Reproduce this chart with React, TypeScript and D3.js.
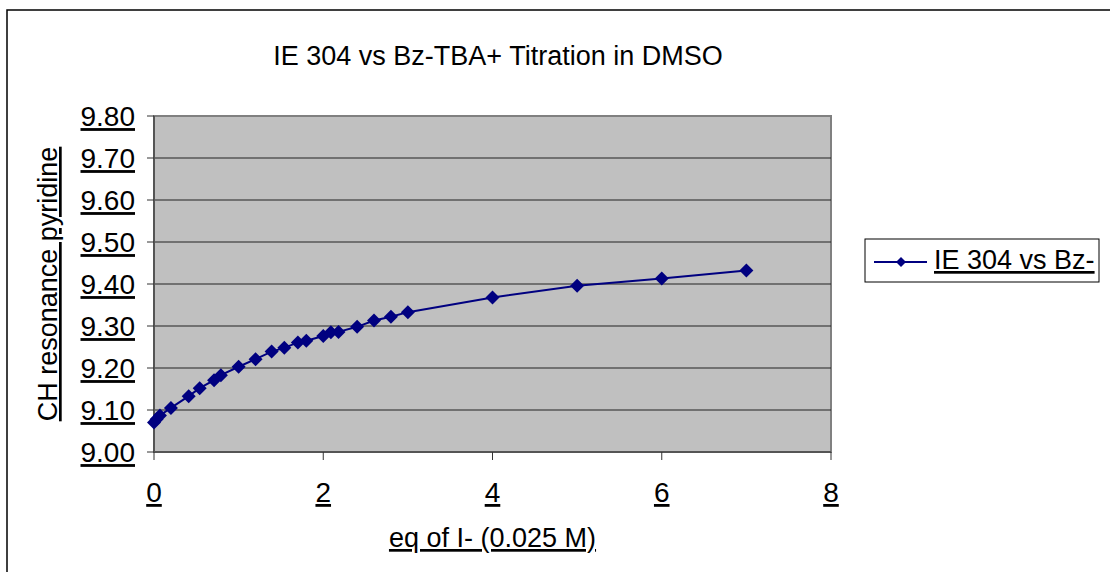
import React from "react";
import * as d3 from "d3";

// Titration data: equivalents of I- added vs. CH resonance of the pyridine proton (ppm)
const eqAdded = [
  0, 0.03, 0.07, 0.2, 0.41, 0.54, 0.71, 0.79, 1.0, 1.2, 1.39, 1.54, 1.7, 1.8,
  2.0, 2.09, 2.18, 2.4, 2.6, 2.8, 3.0, 4.0, 5.0, 6.0, 7.0,
];
const shiftPpm = [
  9.07, 9.078, 9.087, 9.105, 9.133, 9.152, 9.171, 9.183, 9.203, 9.221, 9.239,
  9.248, 9.261, 9.265, 9.276, 9.285, 9.286, 9.298, 9.313, 9.322, 9.333, 9.368,
  9.396, 9.413, 9.432,
];
const xTicks = [0, 2, 4, 6, 8];
const yTicks = [9.0, 9.1, 9.2, 9.3, 9.4, 9.5, 9.6, 9.7, 9.8];

const chartTitle = "IE 304 vs Bz-TBA+ Titration in DMSO";
const xTitle = "eq of I- (0.025 M)";
const yTitle = "CH resonance pyridine";
const seriesName = "IE 304 vs Bz-";

const W = 1110;
const H = 572;
const plot = { left: 154, top: 116, right: 831, bottom: 452 };
const FONT = "'Liberation Sans', Arial, sans-serif";
const NAVY = "#000080";

export default function App() {
  const x = d3.scaleLinear().domain([0, 8]).range([plot.left, plot.right]);
  const y = d3.scaleLinear().domain([9.0, 9.8]).range([plot.bottom, plot.top]);

  const points = eqAdded.map((v, i) => [v, shiftPpm[i]] as [number, number]);
  const line = d3
    .line<[number, number]>()
    .x((d) => x(d[0]))
    .y((d) => y(d[1]));

  const diamond = (cx: number, cy: number, r: number) =>
    `M${cx},${cy - r}L${cx + r},${cy}L${cx},${cy + r}L${cx - r},${cy}Z`;

  return (
    <div style={{ position: "absolute", left: 0, top: 0 }}>
      <svg width={W} height={H} style={{ display: "block", background: "#fff" }}>
        {/* chart frame */}
        <rect x={7} y={10} width={W} height={H} fill="#fff" stroke="#000" strokeWidth={1.5} />

        {/* plot area */}
        <rect
          x={plot.left}
          y={plot.top}
          width={plot.right - plot.left}
          height={plot.bottom - plot.top}
          fill="#C0C0C0"
          stroke="#808080"
          strokeWidth={2}
        />

        {/* horizontal gridlines */}
        {yTicks.slice(1, -1).map((t) => (
          <line
            key={"g" + t}
            x1={plot.left}
            x2={plot.right}
            y1={y(t)}
            y2={y(t)}
            stroke="#222"
            strokeWidth={1}
          />
        ))}

        {/* axes */}
        <line x1={plot.left} x2={plot.left} y1={plot.top} y2={plot.bottom} stroke="#555" strokeWidth={2} />
        <line x1={plot.left} x2={plot.right} y1={plot.bottom} y2={plot.bottom} stroke="#555" strokeWidth={2} />

        {/* y ticks and labels */}
        {yTicks.map((t) => (
          <g key={"y" + t}>
            <line x1={plot.left - 7} x2={plot.left} y1={y(t)} y2={y(t)} stroke="#333" strokeWidth={1} />
            <text
              x={135}
              y={y(t)}
              dy="0.36em"
              textAnchor="end"
              fontFamily={FONT}
              fontSize={28}
              textDecoration="underline"
              fill="#000"
            >
              {t.toFixed(2)}
            </text>
          </g>
        ))}

        {/* x ticks and labels */}
        {xTicks.map((t) => (
          <g key={"x" + t}>
            <line x1={x(t)} x2={x(t)} y1={plot.bottom} y2={plot.bottom + 8} stroke="#333" strokeWidth={1} />
            <text
              x={x(t)}
              y={502}
              textAnchor="middle"
              fontFamily={FONT}
              fontSize={28}
              textDecoration="underline"
              fill="#000"
            >
              {t}
            </text>
          </g>
        ))}

        {/* series */}
        <path d={line(points) || ""} fill="none" stroke={NAVY} strokeWidth={2} />
        {points.map((p, i) => (
          <path key={"m" + i} d={diamond(x(p[0]), y(p[1]), 7)} fill={NAVY} />
        ))}

        {/* titles */}
        <text x={498} y={65} textAnchor="middle" fontFamily={FONT} fontSize={27} fill="#000">
          {chartTitle}
        </text>
        <text
          x={(plot.left + plot.right) / 2}
          y={547}
          textAnchor="middle"
          fontFamily={FONT}
          fontSize={27}
          textDecoration="underline"
          fill="#000"
        >
          {xTitle}
        </text>
        <text
          transform={`translate(57,${(plot.top + plot.bottom) / 2}) rotate(-90)`}
          textAnchor="middle"
          fontFamily={FONT}
          fontSize={27}
          textDecoration="underline"
          fill="#000"
        >
          {yTitle}
        </text>

        {/* legend */}
        <rect x={865} y={239} width={234} height={43} fill="#fff" stroke="#000" strokeWidth={1} />
        <line x1={874} x2={927} y1={262} y2={262} stroke={NAVY} strokeWidth={2} />
        <path d={diamond(901, 262, 5)} fill={NAVY} />
        <text x={934} y={269} fontFamily={FONT} fontSize={27} textDecoration="underline" fill="#000">
          {seriesName}
        </text>
      </svg>
    </div>
  );
}
